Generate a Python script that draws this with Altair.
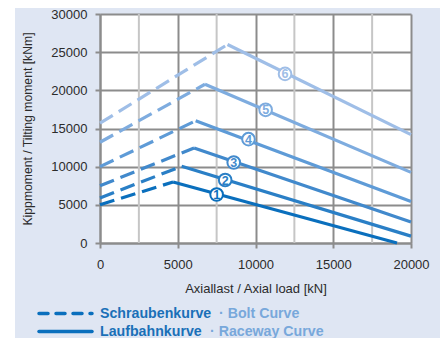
import altair as alt
import pandas as pd

# ---- data ----
curves = ["1", "2", "3", "4", "5", "6"]
start_y = [5000, 5900, 7500, 10000, 13200, 15700]
peak_x = [4700, 5250, 6050, 6150, 6750, 8200]
peak_y = [8000, 10050, 12450, 16000, 20800, 26000]
end_x = [19100, 20000, 20000, 20000, 20000, 20000]
end_y = [0, 900, 2750, 5450, 9250, 14200]
label_x = [7500, 8050, 8600, 9550, 10650, 11900]
label_y = [6350, 8250, 10550, 13600, 17450, 22150]
colors = ["#0a6fbd", "#2a7fc6", "#4189cc", "#5e9bd7", "#7eacdf", "#9fbee7"]
x_ticks = [0, 5000, 10000, 15000, 20000]
x_minor = [2500, 7500, 12500, 17500]
y_ticks = [0, 5000, 10000, 15000, 20000, 25000, 30000]

W, H = 311, 229

dashed = pd.DataFrame(
    [{"curve": c, "x": 0, "y": s, "o": 0} for c, s in zip(curves, start_y)]
    + [{"curve": c, "x": px, "y": py, "o": 1} for c, px, py in zip(curves, peak_x, peak_y)]
)
solid = pd.DataFrame(
    [{"curve": c, "x": px, "y": py, "o": 0} for c, px, py in zip(curves, peak_x, peak_y)]
    + [{"curve": c, "x": ex, "y": ey, "o": 1} for c, ex, ey in zip(curves, end_x, end_y)]
)
labels = pd.DataFrame({"curve": curves, "x": label_x, "y": label_y})
minor = pd.DataFrame({"x": x_minor})
one = pd.DataFrame({"a": [0]})

xs = alt.Scale(domain=[0, 20000], nice=False, zero=False)
ys = alt.Scale(domain=[0, 30000], nice=False)
cs = alt.Scale(domain=curves, range=colors)

xaxis = alt.Axis(values=x_ticks, format="d", title="Axiallast / Axial load [kN]",
                 labelPadding=10, titlePadding=11, labelFlush=False)
yaxis = alt.Axis(values=y_ticks, format="d", title="Kippmoment / Tilting moment [kNm]",
                 labelPadding=8, titlePadding=16, labelFlush=False, titleFontSize=12.2)

X = alt.X("x:Q", scale=xs, axis=xaxis)
Y = alt.Y("y:Q", scale=ys, axis=yaxis)

left_strip = alt.Chart(one).mark_rect(color="white").encode(
    x=alt.value(-92), x2=alt.value(-85), y=alt.value(-6), y2=alt.value(H + 95)
)

minor_grid = alt.Chart(minor).mark_rule(color="#c6c6c6", strokeWidth=2).encode(x=X)

dash_lines = alt.Chart(dashed).mark_line(strokeWidth=3.2, strokeDash=[15, 7]).encode(
    x=X, y=Y, color=alt.Color("curve:N", scale=cs, legend=None), detail="curve:N", order="o:Q"
)
solid_lines = alt.Chart(solid).mark_line(strokeWidth=3.2).encode(
    x=X, y=Y, color=alt.Color("curve:N", scale=cs, legend=None), detail="curve:N", order="o:Q"
)
circles = alt.Chart(labels).mark_point(shape="circle", filled=True, fill="white", size=160,
                                       strokeWidth=2, opacity=1).encode(
    x=X, y=Y, stroke=alt.Stroke("curve:N", scale=cs, legend=None)
)
digits = alt.Chart(labels).mark_text(font="Liberation Sans", fontSize=12.5, fontWeight="bold",
                                     baseline="middle", align="center", dy=0.5).encode(
    x=X, y=Y, text="curve:N", color=alt.Color("curve:N", scale=cs, legend=None)
)

leg_dash = alt.Chart(one).mark_rule(color="#0a6fbd", strokeWidth=3.5, strokeDash=[9, 8],
                                    strokeCap="round").encode(
    x=alt.value(-61), x2=alt.value(-8), y=alt.value(299.5)
)
leg_solid = alt.Chart(one).mark_rule(color="#0a6fbd", strokeWidth=3.5, strokeCap="round").encode(
    x=alt.value(-61), x2=alt.value(-8), y=alt.value(317.5)
)
tfont = dict(font="Liberation Sans", fontSize=14.2, fontWeight="bold", baseline="middle", align="left")
t1 = alt.Chart(one).mark_text(color="#1a70b8", text="Schraubenkurve", **tfont).encode(
    x=alt.value(0), y=alt.value(299.5))
t2 = alt.Chart(one).mark_text(color="#78a8db", text="· Bolt Curve", **tfont).encode(
    x=alt.value(119), y=alt.value(299.5))
t3 = alt.Chart(one).mark_text(color="#1a70b8", text="Laufbahnkurve", **tfont).encode(
    x=alt.value(0), y=alt.value(317.5))
t4 = alt.Chart(one).mark_text(color="#78a8db", text="· Raceway Curve", **tfont).encode(
    x=alt.value(110), y=alt.value(317.5))

chart = alt.layer(
    left_strip, minor_grid, dash_lines, solid_lines, circles, digits,
    leg_dash, leg_solid, t1, t2, t3, t4
).properties(
    width=W, height=H,
    autosize=alt.AutoSizeParams(type="none"),
    padding={"left": 92, "top": 6, "right": 29, "bottom": 95},
    background="#dfe6f3",
).configure_view(
    fill="white", stroke=None
).configure_axis(
    grid=True, gridColor="#8c8c8c", gridWidth=2,
    domainColor="#8c8c8c", domainWidth=2,
    tickColor="#8c8c8c", tickWidth=2, tickSize=5,
    labelFont="Liberation Sans", labelFontSize=13, labelColor="#2b2b2b",
    titleFont="Liberation Sans", titleFontSize=13, titleFontWeight="normal", titleColor="#2b2b2b",
)

chart.save("out.html", embed_options={"renderer": "svg", "actions": False})
